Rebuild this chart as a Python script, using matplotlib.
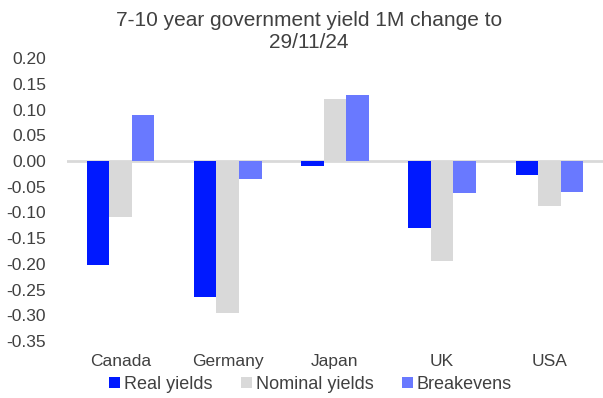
import numpy as np
import matplotlib.pyplot as plt

plt.rcParams['font.family'] = ['Liberation Sans', 'DejaVu Sans']

countries = ["Canada", "Germany", "Japan", "UK", "USA"]
real_yields = [-0.202, -0.265, -0.009, -0.131, -0.028]
nominal_yields = [-0.109, -0.296, 0.121, -0.194, -0.088]
breakevens = [0.089, -0.035, 0.128, -0.063, -0.060]

series = [("Real yields", real_yields, "#0019FF"),
          ("Nominal yields", nominal_yields, "#D9D9D9"),
          ("Breakevens", breakevens, "#6979FF")]

text_col = "#404040"

fig = plt.figure(figsize=(6.03, 3.98), dpi=100)
ax = fig.add_axes([0.111, 0.143, 0.889, 0.711])

x = np.arange(len(countries))
w = 0.21
for i, (name, vals, col) in enumerate(series):
    ax.bar(x + (i - 1) * w, vals, w, color=col, label=name, zorder=2)

ax.axhline(0, color="#D9D9D9", lw=2, zorder=1)

yt = np.round(np.arange(-0.35, 0.201, 0.05), 2)
ax.set_xlim(-0.5, 4.5)
ax.set_ylim(-0.35, 0.20)
ax.set_yticks(yt)
ax.set_yticklabels([f"{v:.2f}" if v != 0 else "0.00" for v in yt])
ax.set_xticks(x)
ax.set_xticklabels(countries)
ax.tick_params(axis="both", length=0, labelsize=12.5, colors=text_col)
ax.tick_params(axis="y", pad=15)
ax.tick_params(axis="x", pad=9)
for s in ax.spines.values():
    s.set_visible(False)

fig.suptitle("7-10 year government yield 1M change to\n29/11/24",
             fontsize=15, color=text_col, x=0.512, y=0.972, linespacing=1.2)

fig.legend(loc="lower center", bbox_to_anchor=(0.515, -0.028), ncol=3,
           frameon=False, fontsize=13, labelcolor=text_col,
           handlelength=0.6, handleheight=0.6, handletextpad=0.2,
           columnspacing=1.6)

fig.savefig("out.png", dpi=100)
